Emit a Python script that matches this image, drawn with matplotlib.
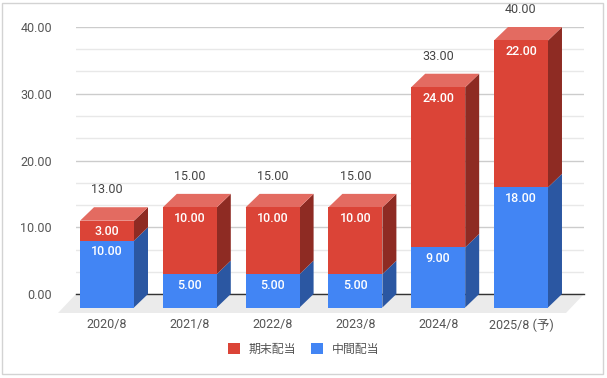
import numpy as np
import matplotlib
matplotlib.use('Agg')
import matplotlib.pyplot as plt
from matplotlib.patches import Polygon, Rectangle, Patch

plt.rcParams['font.family'] = ['Roboto', 'Noto Sans CJK JP', 'DejaVu Sans']

# datos
periods = ['2020/8', '2021/8', '2022/8', '2023/8', '2024/8', '2025/8 (予)']
interim = [10, 5, 5, 5, 9, 18]      # 中間配当
year_end = [3, 10, 10, 10, 24, 22]  # 期末配当
totals = [13, 15, 15, 15, 33, 40]

# colores (cara frontal, superior, lateral)
red = ('#db4437', '#e36b61', '#8e2b23')
blue = ('#4285f4', '#6a9ff6', '#2b57a2')
txt = '#555555'
fs = 9

W, H = 607, 378
fig = plt.figure(figsize=(W / 100, H / 100), dpi=100)
# plano trasero del grafico 3D (px: x 76..584, y 27..294)
ax = fig.add_axes([76 / W, (H - 294) / H, 508 / W, 267 / H])
xmin, xmax = -0.5435, 5.592
ax.set_xlim(xmin, xmax)
ax.set_ylim(0, 40)

pxx = 508 / (xmax - xmin)   # px por unidad x
pxy = 267 / 40              # px por unidad y
ddx, ddy = 14 / pxx, 13.5 / pxy   # profundidad de las barras
w = 54 / pxx

# rejilla
ax.set_yticks(np.arange(0, 41, 10))
ax.set_yticks(np.arange(0, 40.1, 10 / 3), minor=True)
ax.yaxis.set_major_formatter(matplotlib.ticker.FormatStrFormatter('%.2f'))
ax.grid(axis='y', which='major', color='#cccccc', lw=1)
ax.grid(axis='y', which='minor', color='#e8e8e8', lw=1)
ax.set_axisbelow(True)
ax.tick_params(axis='y', which='both', length=0, pad=17.3, labelsize=fs, labelcolor=txt)
for s in ax.spines.values():
    s.set_visible(False)

# suelo
fdx, fdy = 18 / pxx, 19 / pxy
ax.add_patch(Polygon([(xmin, 0), (xmax, 0), (xmax - fdx, -fdy), (xmin - fdx, -fdy)],
                     closed=True, fc='#ebebeb', ec='none', clip_on=False, zorder=1))
ax.plot([xmin, xmax], [0, 0], color='#333333', lw=1, zorder=2, clip_on=False)

x = np.arange(len(periods))
xf = x - ddx  # centro de la cara frontal

def segment(i, b, t, cols, top):
    xl, xr = i - w / 2, i + w / 2
    # lateral
    ax.add_patch(Polygon([(xr - ddx, b - ddy), (xr, b), (xr, t), (xr - ddx, t - ddy)],
                         closed=True, fc=cols[2], ec='none', clip_on=False, zorder=3))
    if top:
        ax.add_patch(Polygon([(xl - ddx, t - ddy), (xr - ddx, t - ddy), (xr, t), (xl, t)],
                             closed=True, fc=cols[1], ec='none', clip_on=False, zorder=3))

for i in x:
    segment(i, 0, interim[i], blue, False)
    segment(i, interim[i], totals[i], red, True)

ax.bar(xf, interim, width=w, bottom=-ddy, color=blue[0], clip_on=False, zorder=4)
ax.bar(xf, year_end, width=w, bottom=np.array(interim) - ddy, color=red[0], clip_on=False, zorder=4)

# etiquetas de datos
for i in x:
    ax.annotate('%.2f' % interim[i], (xf[i], interim[i] - ddy), xytext=(0, -11 * 0.72),
                textcoords='offset points', ha='center', va='center', color='white',
                fontsize=fs, fontweight='medium', zorder=5, annotation_clip=False)
    ax.annotate('%.2f' % year_end[i], (xf[i], totals[i] - ddy), xytext=(0, -11 * 0.72),
                textcoords='offset points', ha='center', va='center', color='white',
                fontsize=fs, fontweight='medium', zorder=5, annotation_clip=False)
    ax.annotate('%.2f' % totals[i], (xf[i], totals[i] - ddy), xytext=(0, 31 * 0.72),
                textcoords='offset points', ha='center', va='center', color='#444444',
                fontsize=fs, zorder=5, annotation_clip=False)

ax.set_xticks(xf)
ax.set_xticklabels(periods)
ax.tick_params(axis='x', length=0, pad=17.5, labelsize=fs, labelcolor=txt)

# leyenda
handles = [Patch(fc=red[0], ec='none', label='期末配当'),
           Patch(fc=blue[0], ec='none', label='中間配当')]
leg = fig.legend(handles=handles, loc='center', bbox_to_anchor=(0.5, 1 - 349 / H), ncol=2,
                 frameon=False, fontsize=8.6, handlelength=1.0, handleheight=1.0,
                 handletextpad=0.67, columnspacing=1.33)
for t in leg.get_texts():
    t.set_color(txt)

# borde
fig.add_artist(Rectangle((2 / W, 4 / H), 601 / W, 371 / H, transform=fig.transFigure,
                         fill=False, ec='#d3d3d3', lw=1))

fig.savefig('out.png', dpi=100)
